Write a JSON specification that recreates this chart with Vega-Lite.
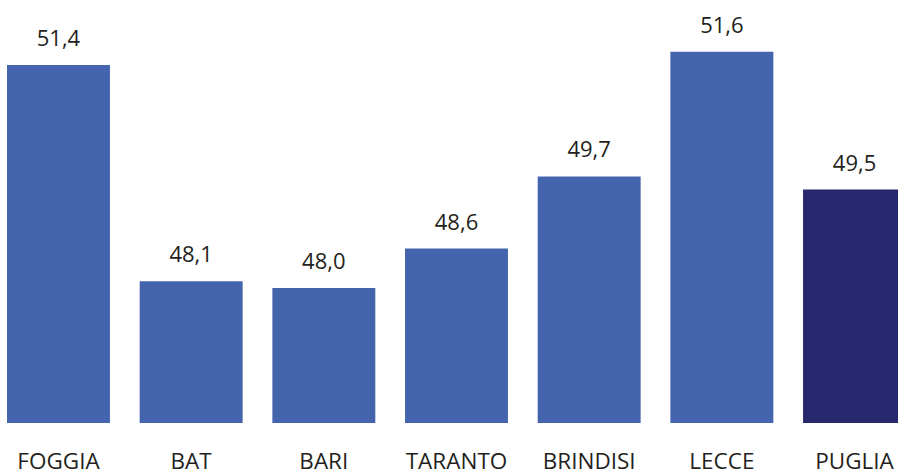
{
  "$schema": "https://vega.github.io/schema/vega-lite/v6.json",
  "width": 899,
  "height": 423,
  "autosize": {"type": "none"},
  "padding": {"left": 7, "top": 0, "right": 0, "bottom": 47},
  "background": "white",
  "config": {
    "view": {"stroke": null},
    "locale": {"number": {"decimal": ",", "thousands": ".", "grouping": [3], "currency": ["€", ""]}},
    "font": "Open Sans"
  },
  "data": {
    "values": [
      {"provincia": "FOGGIA", "valore": 51.4, "tipo": "prov"},
      {"provincia": "BAT", "valore": 48.1, "tipo": "prov"},
      {"provincia": "BARI", "valore": 48.0, "tipo": "prov"},
      {"provincia": "TARANTO", "valore": 48.6, "tipo": "prov"},
      {"provincia": "BRINDISI", "valore": 49.7, "tipo": "prov"},
      {"provincia": "LECCE", "valore": 51.6, "tipo": "prov"},
      {"provincia": "PUGLIA", "valore": 49.5, "tipo": "reg"}
    ]
  },
  "encoding": {
    "x": {
      "field": "provincia",
      "type": "nominal",
      "sort": null,
      "scale": {"paddingInner": 0.224, "paddingOuter": 0},
      "axis": {
        "title": null,
        "domain": false,
        "ticks": false,
        "labelAngle": 0,
        "labelFont": "Open Sans",
        "labelFontSize": 22.5,
        "labelColor": "#231f20",
        "labelBaseline": "alphabetic",
        "labelPadding": 45
      }
    },
    "y": {
      "field": "valore",
      "type": "quantitative",
      "scale": {"domain": [45.94, 52.39], "zero": false, "nice": false},
      "axis": null
    }
  },
  "layer": [
    {
      "mark": {"type": "bar", "clip": true},
      "encoding": {
        "color": {
          "field": "tipo",
          "type": "nominal",
          "scale": {"domain": ["prov", "reg"], "range": ["#4465ae", "#27276e"]},
          "legend": null
        }
      }
    },
    {
      "mark": {"type": "text", "baseline": "alphabetic", "dy": -19, "fontSize": 22, "color": "#231f20", "font": "Open Sans"},
      "encoding": {
        "text": {"field": "valore", "type": "quantitative", "format": ".1f"}
      }
    }
  ]
}
